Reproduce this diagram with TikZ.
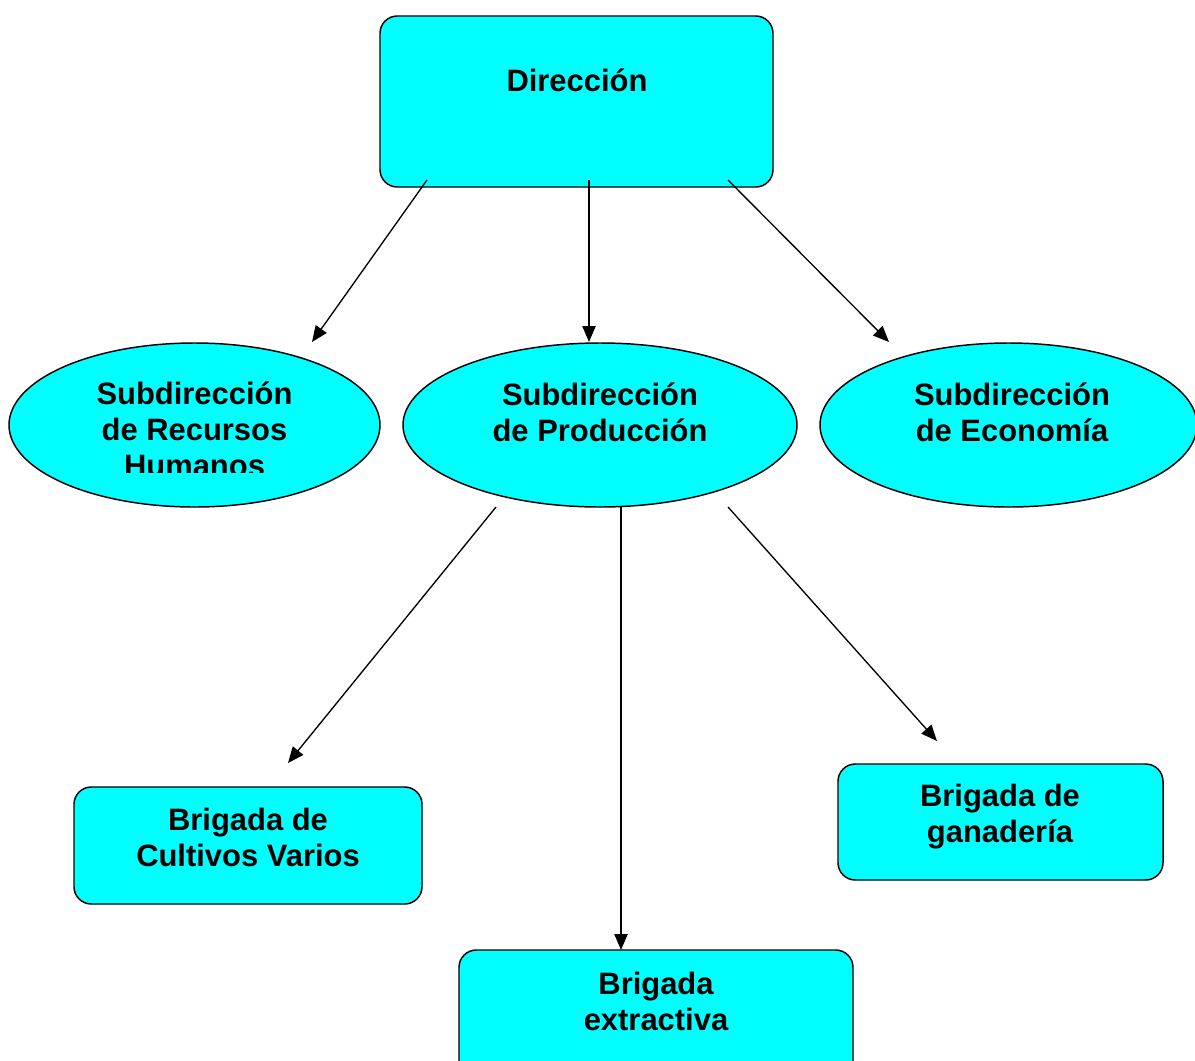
\documentclass[tikz,border=0pt]{standalone}
\usepackage{fontspec}
\setmainfont{Liberation Sans}
\usetikzlibrary{shapes.geometric,arrows.meta}
\definecolor{cy}{HTML}{00FFFF}
\tikzset{
  box/.style={draw=black, line width=1.1pt, fill=cy, rounded corners=13pt, inner sep=0pt},
  oval/.style={draw=black, line width=1.1pt, fill=cy, ellipse, inner sep=0pt},
  lbl/.style={font=\fontsize{23.2}{27}\selectfont\bfseries, align=center, inner sep=0pt},
  arr/.style={line width=1pt, -{Triangle[length=12pt,width=10pt]}}
}
\begin{document}
\begin{tikzpicture}[x=0.75pt,y=-0.75pt]
\useasboundingbox (0,0) rectangle (1195,1060);
% shapes
\node[box, minimum width=393*0.75pt, minimum height=171*0.75pt] (dir) at (576.5,101.5) {};
\node[oval, minimum width=371*0.75pt, minimum height=164*0.75pt] (srh) at (194.5,425) {};
\node[oval, minimum width=394*0.75pt, minimum height=164*0.75pt] (sp) at (600,425) {};
\node[oval, minimum width=377*0.75pt, minimum height=164*0.75pt] (se) at (1008.5,425) {};
\node[box, minimum width=348*0.75pt, minimum height=117*0.75pt] (bcv) at (248,845.5) {};
\node[box, minimum width=325*0.75pt, minimum height=116*0.75pt] (bg) at (1000.5,822) {};
\node[box, minimum width=394*0.75pt, minimum height=130*0.75pt] (be) at (656,1015) {};
% texts
\node[lbl] (tdir) at (577,80) {Dirección};
\begin{scope}
\clip (0,0) rectangle (1195,472.5);
\node[lbl] (tsrh) at (194.5,429.5) {Subdirección\\de Recursos\\Humanos};
\end{scope}
\node[lbl] (tsp) at (600,412.5) {Subdirección\\de Producción};
\node[lbl] (tse) at (1012,412.5) {Subdirección\\de Economía};
\node[lbl] (tbcv) at (248,837) {Brigada de\\Cultivos Varios};
\node[lbl] (tbg) at (1000,816.5) {Brigada de\\ganadería};
\node[lbl] (tbe) at (656,1001) {Brigada\\extractiva};
% connector end points
\coordinate (d1) at (427,180);
\coordinate (d2) at (589,180);
\coordinate (d3) at (728,180);
\coordinate (e1) at (312,342);
\coordinate (e2) at (589,342);
\coordinate (e3) at (889,342);
\coordinate (p1) at (496,507);
\coordinate (p2) at (621,507);
\coordinate (p3) at (728,507);
\coordinate (b1) at (288,763);
\coordinate (b2) at (621,950);
\coordinate (b3) at (937,741);
% connectors
\draw[arr] (d1) -- (e1);
\draw[arr] (d2) -- (e2);
\draw[arr] (d3) -- (e3);
\draw[arr] (p1) -- (b1);
\draw[arr] (p2) -- (b2);
\draw[arr] (p3) -- (b3);
\end{tikzpicture}
\end{document}
